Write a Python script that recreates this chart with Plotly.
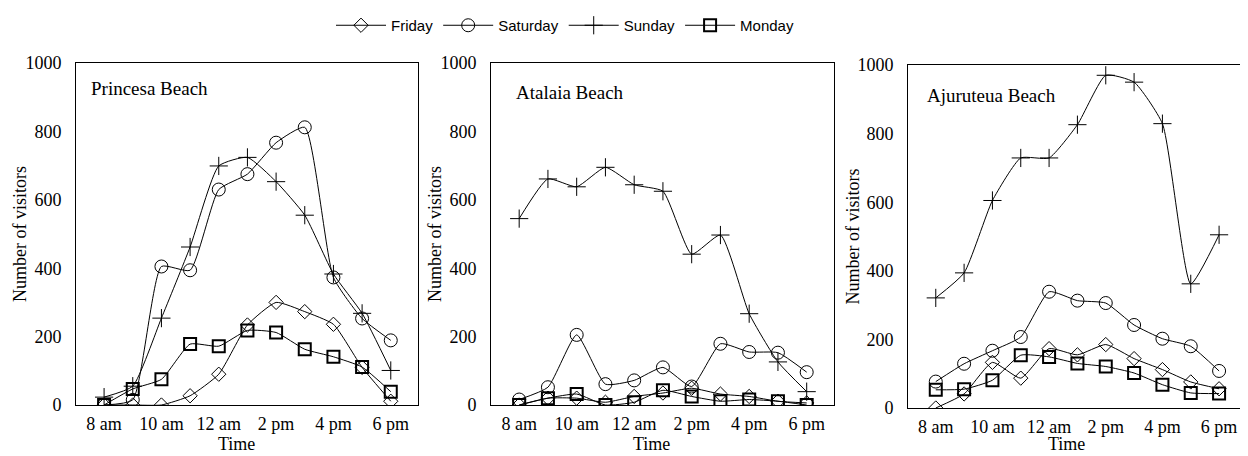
import plotly.graph_objects as go

# hours of the day (8 am .. 6 pm)
hours = [8, 9, 10, 11, 12, 13, 14, 15, 16, 17, 18]
tick_vals = [8, 10, 12, 14, 16, 18]
tick_text = ["8 am", "10 am", "12 am", "2 pm", "4 pm", "6 pm"]

beaches = ["Princesa Beach", "Atalaia Beach", "Ajuruteua Beach"]
days = ["Friday", "Saturday", "Sunday", "Monday"]

# Princesa Beach
princesa_fri = [0, 0, 0, 27, 90, 234, 300, 273, 236, 110, 11]
princesa_sat = [0, 15, 405, 394, 630, 675, 767, 812, 373, 253, 189]
princesa_sun = [23, 55, 254, 462, 699, 724, 653, 555, 383, 268, 101]
princesa_mon = [0, 47, 75, 178, 172, 218, 212, 163, 141, 111, 39]

# Atalaia Beach
atalaia_fri = [0, 20, 20, 8, 25, 35, 49, 32, 25, 11, 6]
atalaia_sat = [16, 52, 205, 61, 72, 110, 54, 179, 155, 153, 96]
atalaia_sun = [545, 661, 638, 695, 644, 625, 441, 497, 267, 126, 39]
atalaia_mon = [0, 20, 32, 0, 8, 43, 25, 11, 16, 11, 0]

# Ajuruteua Beach
ajuruteua_fri = [0, 41, 133, 87, 173, 155, 185, 144, 112, 76, 56]
ajuruteua_sat = [77, 129, 167, 207, 339, 313, 306, 242, 202, 180, 108]
ajuruteua_sun = [321, 394, 605, 729, 729, 826, 970, 950, 829, 362, 505]
ajuruteua_mon = [53, 55, 81, 154, 149, 130, 121, 102, 68, 44, 42]

series = [
    [princesa_fri, princesa_sat, princesa_sun, princesa_mon],
    [atalaia_fri, atalaia_sat, atalaia_sun, atalaia_mon],
    [ajuruteua_fri, ajuruteua_sat, ajuruteua_sun, ajuruteua_mon],
]

MARKERS = {
    "Friday": dict(symbol="diamond-open", size=11, line=dict(width=1, color="black")),
    "Saturday": dict(symbol="circle-open", size=13, line=dict(width=1, color="black")),
    "Sunday": dict(symbol="cross-thin-open", size=13, line=dict(width=1, color="black")),
    "Monday": dict(symbol="square-open", size=12, line=dict(width=2, color="black")),
}

# the page body has an 8px margin, so the figure is drawn 8px in and down
OFF = 8
W, H = 1248 - OFF, 456 - OFF


def px(x):
    return (x - OFF) / W


def py(y):
    return 1 - (y - OFF) / H


# panel boxes in page pixels: (left, right, top, bottom)
boxes = [(76, 418, 63, 405), (491, 834, 63, 405), (908, 1246, 65, 408)]
label_pos = [(89, 88), (514, 93), (925, 95)]

SERIF = "Liberation Serif, Times New Roman, serif"
FS = 18


def text_note(text, x, y, angle=0, anchor="center"):
    return dict(
        text=text, x=px(x), y=py(y), xref="paper", yref="paper",
        xanchor=anchor, yanchor="middle", showarrow=False, textangle=angle,
        font=dict(family=SERIF, size=FS, color="black"),
    )


fig = go.Figure()
layout = dict(
    template="none",
    width=W, height=H,
    margin=dict(l=0, r=0, t=0, b=0),
    paper_bgcolor="white", plot_bgcolor="white",
    font=dict(family=SERIF, size=FS, color="black"),
    showlegend=True,
    legend=dict(
        orientation="h", x=px(565), xanchor="center", y=py(9), yanchor="top",
        font=dict(family="Liberation Sans, Arial, sans-serif", size=15, color="black"),
        bgcolor="rgba(0,0,0,0)", itemwidth=50, tracegroupgap=0,
    ),
    annotations=[],
)

for i, (beach, vals) in enumerate(zip(beaches, series)):
    n = "" if i == 0 else str(i + 1)
    l, r, t, b = boxes[i]
    for day, y in zip(days, vals):
        fig.add_trace(go.Scatter(
            x=hours, y=y, mode="lines+markers", name=day,
            line=dict(color="black", width=1, shape="spline", smoothing=0.5),
            marker=dict(color="black", **MARKERS[day]),
            xaxis="x" + n, yaxis="y" + n,
            showlegend=(i == 0), legendgroup=day,
        ))
    layout["xaxis" + n] = dict(
        domain=[px(l), px(r)], anchor="y" + n, range=[7.02, 18.95],
        tickvals=tick_vals, ticktext=tick_text, showgrid=False, zeroline=False,
        showline=True, linecolor="black", linewidth=1, mirror=True,
        ticks="", ticklabelstandoff=2, tickfont=dict(size=FS), automargin=False,
    )
    layout["yaxis" + n] = dict(
        domain=[py(b), py(t)], anchor="x" + n, range=[0, 1000],
        tickvals=[0, 200, 400, 600, 800, 1000], showgrid=False, zeroline=False,
        showline=True, linecolor="black", linewidth=1, mirror=True,
        ticks="", ticklabelstandoff=10, tickfont=dict(size=FS), automargin=False,
    )
    # axis titles placed as notes so they sit where the original has them
    layout["annotations"].append(text_note("Time", (l + r) / 2 - 11, min(b + 40, 444)))
    layout["annotations"].append(text_note("Number of visitors", l - 56, (t + b) / 2, angle=-90))
    lx, ly = label_pos[i]
    note = text_note(beach, lx, ly, anchor="left")
    note["font"]["size"] = 19
    layout["annotations"].append(note)

fig.update_layout(**layout)
fig.write_html("out.html")
